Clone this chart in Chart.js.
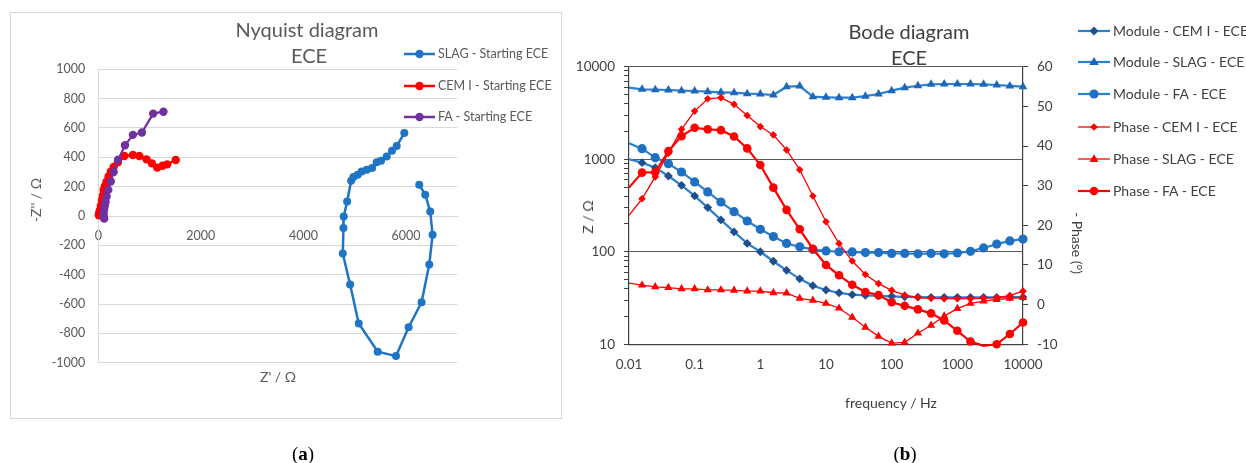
<!DOCTYPE html>
<html><head><meta charset="utf-8">
<script src="https://cdn.jsdelivr.net/npm/chart.js@4.4.1/dist/chart.umd.min.js"></script>
<style>
html,body{margin:0;padding:0;background:#fff;}
#wrap{position:relative;width:1246px;height:463px;overflow:hidden;font-family:Lato,'Liberation Sans',sans-serif;}
canvas{position:absolute;left:0;top:0;}
.box{position:absolute;left:10px;top:12px;width:550px;height:405px;border:1px solid #d6d6d6;}
.t{position:absolute;white-space:nowrap;transform:translate(-50%,-50%);line-height:1;}
.lg{position:absolute;white-space:nowrap;line-height:1;transform:translateY(-50%);}
.cap{font-family:'Liberation Serif',serif;font-size:19px;color:#000;}
</style></head>
<body>
<div id="wrap">
  <div class="box"></div>
  <canvas id="c1" width="1246" height="463"></canvas>
  <canvas id="c2" width="1246" height="463"></canvas>
  <div class="t" style="left:307px;top:29px;font-size:20px;color:#595959">Nyquist diagram</div>
  <div class="t" style="left:309px;top:55px;font-size:20px;color:#595959">ECE</div>
  <div class="t" style="left:36px;top:200px;font-size:14px;color:#595959;transform:translate(-50%,-50%) rotate(-90deg)">-Z'' / Ω</div>
  <div class="t" style="left:278px;top:377px;font-size:14px;color:#595959">Z' / Ω</div>
  <div class="t" style="left:909px;top:31px;font-size:20px;color:#404040">Bode diagram</div>
  <div class="t" style="left:909px;top:57px;font-size:20px;color:#404040">ECE</div>
  <div class="t" style="left:588px;top:217px;font-size:14px;color:#404040;transform:translate(-50%,-50%) rotate(-90deg)">Z / Ω</div>
  <div class="t" style="left:1077px;top:243px;font-size:14px;color:#404040;transform:translate(-50%,-50%) rotate(90deg)">- Phase (°)</div>
  <div class="t" style="left:891px;top:403px;font-size:14px;color:#404040">frequency / Hz</div>
  <div class="t cap" style="left:303px;top:453px">(<b>a</b>)</div>
  <div class="t cap" style="left:905px;top:453px">(<b>b</b>)</div>
  <div id="legends"></div>
</div>
<script>
// ---------- Nyquist data (Z' / Ω, -Z'' / Ω) ----------
const nyqSlagRe = [5967, 5818, 5727, 5623, 5513, 5428, 5338, 5234, 5136, 5058, 4975, 4930, 4852, 4786, 4780, 4767, 4910, 5078, 5448, 5805, 6051, 6303, 6453, 6518, 6472, 6375, 6258];
const nyqSlagIm = [565, 478, 444, 406, 376, 367, 327, 315, 304, 281, 265, 240, 99, -3, -82, -256, -467, -733, -925, -955, -758, -588, -331, -127, 31, 145, 213];
const nyqCemRe = [10, 20, 35, 50, 70, 90, 104, 130, 160, 200, 244, 300, 383, 508, 675, 800, 940, 1044, 1149, 1253, 1343, 1510];
const nyqCemIm = [5, 25, 41, 70, 109, 140, 177, 205, 234, 270, 302, 335, 366, 409, 416, 409, 386, 359, 330, 343, 352, 382];
const nyqFaRe = [1270, 1070, 850, 675, 520, 386, 300, 243, 195, 162, 142, 125, 115, 105, 100, 105, 115];
const nyqFaIm = [711, 698, 569, 553, 482, 383, 300, 235, 178, 133, 95, 70, 50, 30, 12, -5, -18];
const nyqXTicks = [0, 2000, 4000, 6000];
const nyqYTicks = [-1000, -800, -600, -400, -200, 0, 200, 400, 600, 800, 1000];
const nyqLegend = ['SLAG - Starting ECE', 'CEM I - Starting ECE', 'FA - Starting ECE'];

// ---------- Bode data ----------
const bodeFreq = [0.01, 0.0158, 0.0251, 0.0398, 0.0631, 0.1, 0.158, 0.251, 0.398, 0.631, 1, 1.58, 2.51, 3.98, 6.31, 10, 15.8, 25.1, 39.8, 63.1, 100, 158, 251, 398, 631, 1000, 1585, 2512, 3981, 6310, 10000];
const modCem  = [1000, 918, 811, 659, 523, 401, 300, 221, 164, 123, 100, 79, 63, 51, 43, 38.6, 36, 34.4, 33.8, 33.3, 33, 32.6, 32.4, 32.2, 32.2, 32.2, 32.2, 32.2, 32.2, 32.4, 32.4];
const modSlag = [5930, 5690, 5650, 5600, 5510, 5460, 5370, 5290, 5240, 5110, 5070, 4940, 6080, 6180, 4740, 4670, 4630, 4630, 4800, 5070, 5510, 5930, 6230, 6450, 6500, 6500, 6500, 6450, 6340, 6200, 6080];
const modFa   = [1485, 1300, 1040, 896, 728, 568, 443, 345, 271, 215, 175, 146, 123, 113, 106, 102, 100, 99.5, 98, 98, 96, 96, 95, 96, 95, 97, 101, 110, 121, 131, 137];
const phCem   = [22.5, 26.7, 32.2, 38.2, 44.2, 48.8, 51.9, 52.2, 50.5, 47.7, 44.9, 42.8, 39.0, 34.0, 27.4, 20.9, 15.4, 11.0, 7.6, 5.3, 3.6, 2.4, 1.8, 1.6, 1.5, 1.5, 1.5, 1.6, 1.8, 2.3, 3.4];
const phSlag  = [5.4, 4.9, 4.5, 4.3, 4.0, 4.0, 3.7, 3.7, 3.6, 3.4, 3.4, 3.0, 2.9, 1.6, 1.1, 0.3, -0.9, -3.2, -5.7, -8.0, -9.7, -9.5, -7.2, -5.2, -2.9, -1.0, 0.3, 0.9, 1.3, 1.6, 1.8];
const phFa    = [29.5, 33.3, 33.4, 38.7, 42.5, 44.6, 44.2, 44.0, 42.4, 39.4, 35.2, 29.5, 23.9, 19.0, 14.1, 10.0, 7.4, 5.0, 3.2, 2.4, 0.6, -0.3, -1.2, -2.2, -4.0, -6.6, -9.3, -10.4, -10.0, -7.4, -4.5];
const bodeXTicks = [0.01, 0.1, 1, 10, 100, 1000, 10000];
const bodeXTickLabels = ['0.01', '0.1', '1', '10', '100', '1000', '10000'];
const bodeYTicks = [10, 100, 1000, 10000];
const phaseTicks = [-10, 0, 10, 20, 30, 40, 50, 60];
const bodeLegend = ['Module - CEM I - ECE', 'Module - SLAG - ECE', 'Module - FA - ECE', 'Phase - CEM I - ECE', 'Phase - SLAG - ECE', 'Phase - FA - ECE'];

const FONT = "Lato, 'Liberation Sans', sans-serif";
Chart.defaults.font.family = FONT;

const BLUE_LINE = '#2b7fd0';
const C_SLAG_N = '#1f74c6', C_RED = '#ff0000', C_PURP = '#7030a0';
const C_DIAM = '#1f4f8f', C_TRI = '#1d66b8', C_CIRC = '#1f6fc2';

function pts(xs, ys) { return xs.map((x, i) => ({ x: x, y: ys[i] })); }
function setTicks(arr) { return s => { s.ticks = arr.map(v => ({ value: v })); }; }
const plain = v => String(v);

// ---------- Nyquist chart ----------
new Chart(document.getElementById('c1'), {
  type: 'scatter',
  data: {
    datasets: [
      { data: pts(nyqFaRe, nyqFaIm), showLine: true, borderColor: C_PURP, backgroundColor: C_PURP, borderWidth: 2.2, pointRadius: 4.2, pointBorderWidth: 0, clip: false },
      { data: pts(nyqCemRe, nyqCemIm), showLine: true, borderColor: C_RED, backgroundColor: C_RED, borderWidth: 2.5, pointRadius: 4.2, pointBorderWidth: 0, clip: false },
      { data: pts(nyqSlagRe, nyqSlagIm), showLine: true, borderColor: C_SLAG_N, backgroundColor: C_SLAG_N, borderWidth: 2.5, pointRadius: 4, pointBorderWidth: 0, clip: false }
    ]
  },
  options: {
    responsive: false, animation: false, devicePixelRatio: 1,
    layout: { padding: { left: 38.3, top: 69.3, right: 788.7, bottom: 100.3 } },
    plugins: { legend: { display: false }, tooltip: { enabled: false } },
    scales: {
      x: {
        type: 'linear', position: { y: 0 }, min: 0, max: 7000,
        afterBuildTicks: setTicks(nyqXTicks),
        grid: { display: false, drawTicks: false },
        border: { display: true, color: '#d9d9d9' },
        ticks: { color: '#595959', font: { size: 12.5 }, padding: 12, maxRotation: 0, callback: plain }
      },
      y: {
        type: 'linear', min: -1000, max: 1000,
        afterBuildTicks: setTicks(nyqYTicks),
        afterFit: s => { s.width = 60; },
        grid: { color: '#d9d9d9', drawTicks: false },
        border: { color: '#d9d9d9' },
        ticks: { color: '#595959', font: { size: 12.5 }, padding: 13, callback: plain }
      }
    }
  }
});

// ---------- Bode chart ----------
const hideFirst = r => ctx => (ctx.dataIndex === 0 || (ctx.raw && ctx.raw.y < -10)) ? 0 : r;
const minorY = [];
for (let d = 10; d < 10000; d *= 10) for (let m = 1; m < 10; m++) minorY.push(d * m);
minorY.push(10000);

new Chart(document.getElementById('c2'), {
  type: 'scatter',
  data: {
    datasets: [
      { data: pts(bodeFreq, phFa), yAxisID: 'y2', showLine: true, borderColor: C_RED, backgroundColor: C_RED, borderWidth: 2.2, pointStyle: 'circle', pointRadius: hideFirst(4.3), pointBorderWidth: 0, clip: false },
      { data: pts(bodeFreq, phSlag), yAxisID: 'y2', showLine: true, borderColor: C_RED, backgroundColor: C_RED, borderWidth: 1.3, pointStyle: 'triangle', pointRadius: hideFirst(4.8), pointBorderWidth: 0, clip: false },
      { data: pts(bodeFreq, phCem), yAxisID: 'y2', showLine: true, borderColor: C_RED, backgroundColor: C_RED, borderWidth: 1.3, pointStyle: 'rectRot', pointRadius: hideFirst(3.8), pointBorderWidth: 0, clip: false },
      { data: pts(bodeFreq, modFa), yAxisID: 'y', showLine: true, borderColor: BLUE_LINE, backgroundColor: C_CIRC, borderWidth: 2.2, pointStyle: 'circle', pointRadius: hideFirst(4.6), pointBorderWidth: 0, clip: false },
      { data: pts(bodeFreq, modSlag), yAxisID: 'y', showLine: true, borderColor: BLUE_LINE, backgroundColor: C_TRI, borderWidth: 2.2, pointStyle: 'triangle', pointRadius: hideFirst(5), pointBorderWidth: 0, clip: false },
      { data: pts(bodeFreq, modCem), yAxisID: 'y', showLine: true, borderColor: BLUE_LINE, backgroundColor: C_DIAM, borderWidth: 2.2, pointStyle: 'rectRot', pointRadius: hideFirst(4.4), pointBorderWidth: 0, clip: false }
    ]
  },
  options: {
    responsive: false, animation: false, devicePixelRatio: 1,
    layout: { padding: { left: 569, top: 66.7, right: 178, bottom: 88.7 } },
    plugins: { legend: { display: false }, tooltip: { enabled: false } },
    scales: {
      x: {
        type: 'logarithmic', position: 'bottom', min: 0.01, max: 10000,
        afterBuildTicks: setTicks(bodeXTicks),
        afterFit: s => { s.height = 30; },
        grid: { display: false, drawTicks: false },
        border: { display: true, color: '#404040', width: 1.2 },
        ticks: { color: '#404040', font: { size: 13.5 }, padding: 12, maxRotation: 0, autoSkip: false,
                 callback: (v, i) => bodeXTickLabels[i] }
      },
      y: {
        type: 'logarithmic', position: 'left', min: 10, max: 10000,
        afterBuildTicks: setTicks(minorY),
        afterFit: s => { s.width = 60; },
        grid: { color: c => bodeYTicks.includes(c.tick && c.tick.value) ? '#5a5a5a' : 'rgba(0,0,0,0)',
                tickColor: '#404040', tickLength: 5, drawTicks: true },
        border: { color: '#404040', width: 1.2 },
        ticks: { color: '#404040', font: { size: 13.5 }, padding: 9, autoSkip: false,
                 callback: v => bodeYTicks.includes(v) ? String(v) : '' }
      },
      y2: {
        type: 'linear', position: 'right', min: -10, max: 60,
        afterBuildTicks: setTicks(phaseTicks),
        afterFit: s => { s.width = 45; },
        grid: { drawOnChartArea: false, tickColor: '#404040', tickLength: 5 },
        border: { color: '#404040', width: 1.2 },
        ticks: { color: '#404040', font: { size: 13.5 }, padding: 9, callback: plain }
      }
    }
  }
});

// ---------- HTML legends ----------
function shapeSvg(shape, cx, cy, r, color) {
  if (shape === 'circle') return `<circle cx="${cx}" cy="${cy}" r="${r}" fill="${color}"/>`;
  if (shape === 'triangle') {
    return `<polygon points="${cx},${cy - r} ${cx + r * 0.95},${cy + r * 0.6} ${cx - r * 0.95},${cy + r * 0.6}" fill="${color}"/>`;
  }
  return `<polygon points="${cx},${cy - r} ${cx + r},${cy} ${cx},${cy + r} ${cx - r},${cy}" fill="${color}"/>`;
}
function addLegend(x0, x1, textX, y, lineColor, lw, shape, r, mColor, label, tColor, fs) {
  const L = document.getElementById('legends');
  const w = x1 - x0, h = 16;
  const svg = `<svg style="position:absolute;left:${x0}px;top:${y - h / 2}px" width="${w}" height="${h}">
    <line x1="0" y1="${h / 2}" x2="${w}" y2="${h / 2}" stroke="${lineColor}" stroke-width="${lw}"/>
    ${shapeSvg(shape, w / 2, h / 2, r, mColor)}</svg>`;
  L.insertAdjacentHTML('beforeend', svg +
    `<div class="lg" style="left:${textX}px;top:${y}px;font-size:${fs}px;color:${tColor}">${label}</div>`);
}
const nyqLegY = [54.3, 85.7, 117.3];
const nyqLegC = [C_SLAG_N, C_RED, C_PURP];
nyqLegend.forEach((lab, i) => addLegend(404, 435, 438, nyqLegY[i], nyqLegC[i], 2.5, 'circle', 4.2, nyqLegC[i], lab, '#595959', 12.5));

const bodeLegY = [30.7, 62.3, 94.3, 126.7, 159, 191];
const bodeLegSpec = [
  [BLUE_LINE, 2.2, 'diamond', 4.4, C_DIAM], [BLUE_LINE, 2.2, 'triangle', 5, C_TRI], [BLUE_LINE, 2.2, 'circle', 4.6, C_CIRC],
  [C_RED, 1.3, 'diamond', 3.8, C_RED], [C_RED, 1.3, 'triangle', 4.8, C_RED], [C_RED, 2.2, 'circle', 4.3, C_RED]
];
bodeLegend.forEach((lab, i) => { const s = bodeLegSpec[i]; addLegend(1078, 1110, 1113, bodeLegY[i], s[0], s[1], s[2], s[3], s[4], lab, '#404040', 14); });
</script>
</body></html>
